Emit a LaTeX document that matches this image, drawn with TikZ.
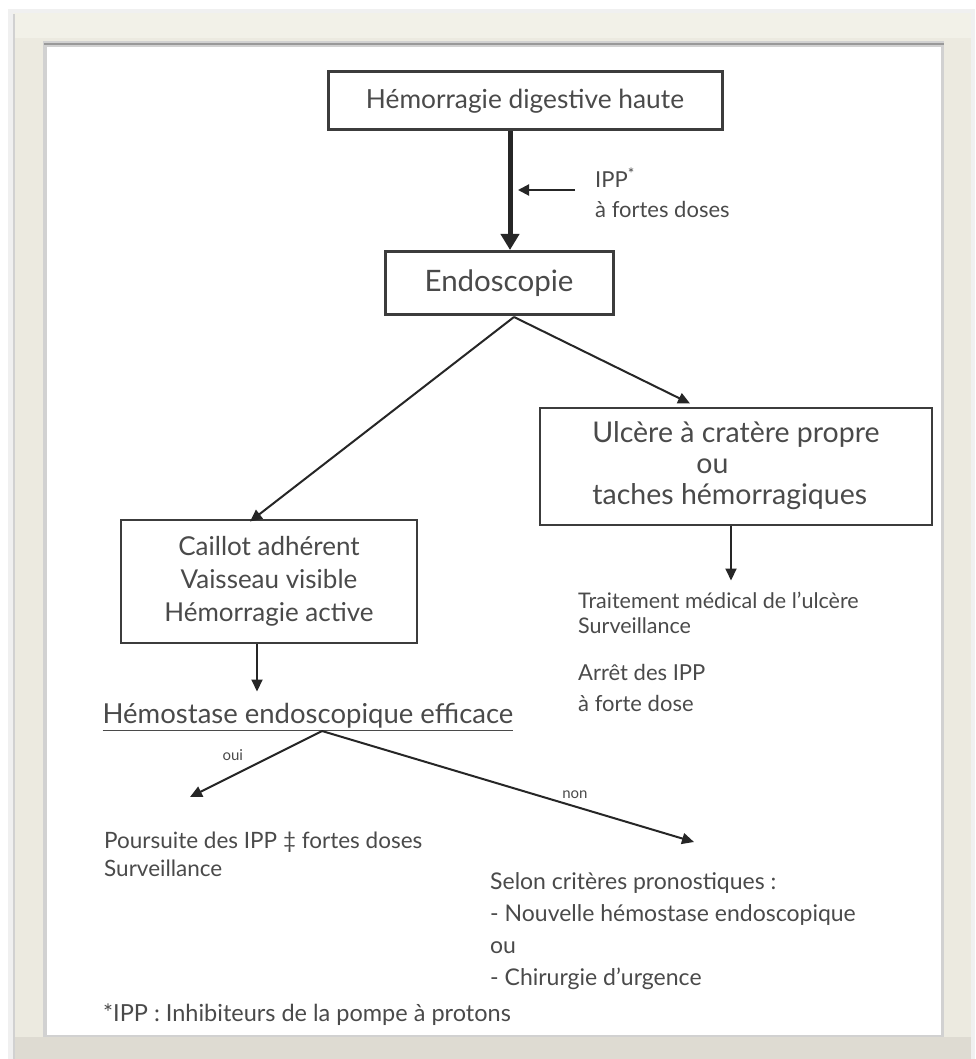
\documentclass[tikz,border=0pt]{standalone}
\usepackage{fontspec}
\setmainfont{Lato}
\usetikzlibrary{arrows.meta,calc}
\definecolor{txt}{HTML}{4A4A4A}
\definecolor{framec}{HTML}{ECEAE0}
\definecolor{framelight}{HTML}{F2F1E8}
\definecolor{framedark}{HTML}{DEDBD2}
\definecolor{edgec}{HTML}{3C3C3C}
\begin{document}
\begin{tikzpicture}[x=1pt,y=-1pt,
  bx/.style={draw=edgec, rectangle, inner sep=0pt, text=txt, align=center},
  lbl/.style={text=txt, inner sep=0pt, anchor=west, align=left},
  arr/.style={draw=black!85, line width=2pt, -{Triangle[length=12pt,width=11pt]}},
  tiny/.style={font=\fontsize{15}{17}\selectfont}
]
\useasboundingbox (0,0) rectangle (976,1059);
\fill[white] (0,0) rectangle (976,1059);
% frame
\fill[black!6] (8,9) rectangle (975,1059);
\fill[framec] (13,13) rectangle (971,1059);
\fill[framelight] (13,13) rectangle (971,38);
\fill[framedark] (13,1037) rectangle (971,1059);
\draw[black!18, line width=1.5pt] (14,14) -- (14,1059);
\fill[black!18] (43,41) rectangle (944,1037);
\fill[white] (47,47) rectangle (941,1035);
\draw[black!40, line width=2.5pt] (44,44) -- (944,44);

% boxes
\node[bx, line width=3pt, minimum width=394pt, minimum height=58pt,
      font=\fontsize{26.3}{32}\selectfont] (hdh) at (525,101) {Hémorragie digestive haute};
\node[bx, line width=3pt, minimum width=228pt, minimum height=63pt,
      font=\fontsize{29.5}{34}\selectfont] (endo) at (499,283) {Endoscopie};
\node[bx, line width=2pt, minimum width=392pt, minimum height=117pt, align=left,
      font=\fontsize{28.5}{31}\selectfont] (ulc) at (736,466)
  {Ulcère à cratère propre\\\hspace*{104pt}ou\\taches hémorragiques};
\node[bx, line width=2pt, minimum width=296pt, minimum height=123pt,
      font=\fontsize{26}{33}\selectfont] (cai) at (269,581)
  {Caillot adhérent\\Vaisseau visible\\Hémorragie active};

% IPP label
\coordinate (m) at (510,190);
\node[lbl, font=\fontsize{22}{30}\selectfont] (ipp) at (595,193) {IPP\textsuperscript{*}\\à fortes doses};
\draw[line width=5pt, black!85, -{Triangle[length=16pt,width=18pt]}] (hdh.south -| m) -- (endo.north -| m);
\draw[arr, line width=2pt, -{Triangle[length=11pt,width=11pt]}] ([xshift=-20pt]ipp.west |- m) -- ([xshift=8pt]m);

% Endoscopie branches
\coordinate (e) at (514,317);
\draw[arr] (e) -- ([xshift=-19pt,yshift=-3pt]cai.north);
\draw[arr] (e) -- ([xshift=-46pt,yshift=3pt]ulc.north);

% right branch results
\draw[arr] ([xshift=-5pt]ulc.south) -- ++(0,55);
\node[lbl, font=\fontsize{21.5}{25}\selectfont] (trt) at (578,613) {Traitement médical de l'ulcère\\Surveillance};
\node[lbl, font=\fontsize{22}{31}\selectfont] (stop) at (578,688) {Arrêt des IPP\\à forte dose};

% left branch
\draw[arr] ([xshift=-12pt]cai.south) -- ++(0,48);
\node[text=txt, inner sep=0pt, font=\fontsize{27.5}{30}\selectfont] (hem) at (308,717) {\underline{Hémostase endoscopique efficace}};
\coordinate (h) at (322,731);
\coordinate (oui) at (190,797);
\coordinate (non) at (694,842);
\draw[arr] (h) -- node[pos=0.55, above left=2pt, text=txt, tiny] (ouilbl) {oui} (oui);
\draw[arr] (h) -- node[pos=0.68, above=4pt, text=txt, tiny] (nonlbl) {non} (non);

\node[lbl, font=\fontsize{22.5}{28}\selectfont] (pours) at (104,854) {Poursuite des IPP ‡ fortes doses\\Surveillance};
\node[lbl, font=\fontsize{23}{32}\selectfont] (selon) at (490,931) {Selon critères pronostiques :\\- Nouvelle hémostase endoscopique\\ou\\- Chirurgie d'urgence};

\node[lbl, font=\fontsize{23.5}{26}\selectfont] (foot) at (103,1015) {*IPP : Inhibiteurs de la pompe à protons};
\end{tikzpicture}
\end{document}
